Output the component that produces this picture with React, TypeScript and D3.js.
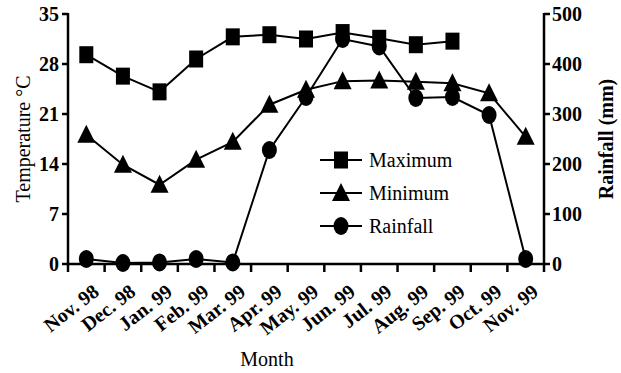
import React from 'react';
import * as d3 from 'd3';

const months = [
  'Nov. 98', 'Dec. 98', 'Jan. 99', 'Feb. 99', 'Mar. 99', 'Apr. 99', 'May. 99',
  'Jun. 99', 'Jul. 99', 'Aug. 99', 'Sep. 99', 'Oct. 99', 'Nov. 99',
];
// null = no reading
const maximum: (number | null)[] = [29.3, 26.3, 24.1, 28.7, 31.8, 32.1, 31.5, 32.4, 31.6, 30.7, 31.2, null, null];
const minimum = [18.1, 13.9, 11.1, 14.6, 17.1, 22.3, 24.4, 25.6, 25.7, 25.5, 25.3, 23.9, 17.8];
const rainfall = [10, 2, 3, 10, 3, 228, 334, 450, 435, 332, 334, 298, 10];
const tempTicks = [0, 7, 14, 21, 28, 35];
const rainTicks = [0, 100, 200, 300, 400, 500];

const W = 621;
const H = 373;
const m = { left: 68, right: 544, top: 14, bottom: 264 };
const font = '"Liberation Serif", "Times New Roman", serif';

const App: React.FC = () => {
  const x = d3.scaleBand<string>().domain(months).range([m.left, m.right]);
  const yT = d3.scaleLinear().domain([0, 35]).range([m.bottom, m.top]);
  const yR = d3.scaleLinear().domain([0, 500]).range([m.bottom, m.top]);
  const cx = (d: string) => (x(d) ?? 0) + x.bandwidth() / 2;

  const maxPts = months
    .map((mo, i) => ({ mo, v: maximum[i] }))
    .filter((d) => d.v != null) as { mo: string; v: number }[];
  const minPts = months.map((mo, i) => ({ mo, v: minimum[i] }));
  const rainPts = months.map((mo, i) => ({ mo, v: rainfall[i] }));

  const lineT = d3.line<{ mo: string; v: number }>().x((d) => cx(d.mo)).y((d) => yT(d.v));
  const lineR = d3.line<{ mo: string; v: number }>().x((d) => cx(d.mo)).y((d) => yR(d.v));

  const square = (px: number, py: number, k: string) => (
    <rect key={k} x={px - 7} y={py - 8.5} width={14} height={17} fill="#000" />
  );
  const tri = (px: number, py: number, k: string) => (
    <path key={k} d={`M${px},${py - 10}L${px + 9},${py + 8}L${px - 9},${py + 8}Z`} fill="#000" />
  );
  const dot = (px: number, py: number, k: string) => (
    <ellipse key={k} cx={px} cy={py} rx={7.5} ry={9} fill="#000" />
  );

  const legend = [
    { label: 'Maximum', mark: square },
    { label: 'Minimum', mark: tri },
    { label: 'Rainfall', mark: dot },
  ];

  return (
    <svg width={W} height={H} style={{ position: 'absolute', left: 0, top: 0, background: '#fff' }} fontFamily={font}>
      {/* series */}
      <path d={lineR(rainPts) ?? ''} fill="none" stroke="#000" strokeWidth={2} />
      <path d={lineT(minPts) ?? ''} fill="none" stroke="#000" strokeWidth={2} />
      <path d={lineT(maxPts) ?? ''} fill="none" stroke="#000" strokeWidth={2} />
      {rainPts.map((d, i) => dot(cx(d.mo), yR(d.v), 'r' + i))}
      {minPts.map((d, i) => tri(cx(d.mo), yT(d.v), 'n' + i))}
      {maxPts.map((d, i) => square(cx(d.mo), yT(d.v), 'x' + i))}

      {/* axes */}
      <g stroke="#000" strokeWidth={2.5}>
        <line x1={m.left} x2={m.left} y1={m.top - 1} y2={m.bottom + 1} />
        <line x1={m.right} x2={m.right} y1={m.top - 1} y2={m.bottom + 1} />
        <line x1={m.left} x2={m.right} y1={m.bottom} y2={m.bottom} />
        {tempTicks.map((t) => (
          <line key={'tt' + t} x1={m.left - 6} x2={m.left} y1={yT(t)} y2={yT(t)} />
        ))}
        {rainTicks.map((t) => (
          <line key={'rt' + t} x1={m.right} x2={m.right + 6} y1={yR(t)} y2={yR(t)} />
        ))}
        {months.map((mo) => (
          <line key={'xt' + mo} x1={(x(mo) ?? 0) + x.bandwidth()} x2={(x(mo) ?? 0) + x.bandwidth()} y1={m.bottom} y2={m.bottom + 8} />
        ))}
        <line x1={m.left} x2={m.left} y1={m.bottom} y2={m.bottom + 8} />
      </g>
      <g fontSize={20} fontWeight="bold" fill="#000">
        {tempTicks.map((t) => (
          <text key={'tl' + t} x={m.left - 9} y={yT(t)} dy="0.35em" textAnchor="end">{t}</text>
        ))}
        {rainTicks.map((t) => (
          <text key={'rl' + t} x={m.right + 8} y={yR(t)} dy="0.35em">{t}</text>
        ))}
        {months.map((mo) => (
          <text key={'xl' + mo} transform={`translate(${cx(mo) + 14},${m.bottom + 30}) rotate(-38)`} textAnchor="end">{mo}</text>
        ))}
      </g>

      {/* titles */}
      <g fontSize={20} fill="#000">
        <text transform={`translate(30,139) rotate(-90)`} textAnchor="middle">Temperature °C</text>
        <text transform={`translate(613,139) rotate(-90)`} textAnchor="middle" fontWeight="bold">Rainfall (mm)</text>
        <text x={267} y={366} textAnchor="middle">Month</text>
      </g>

      {/* legend */}
      <g fontSize={20} fill="#000">
        {legend.map((l, i) => {
          const ly = 160 + i * 33;
          return (
            <g key={l.label}>
              <line x1={320} x2={362} y1={ly} y2={ly} stroke="#000" strokeWidth={2} />
              {l.mark(341, ly, 'lg' + i)}
              <text x={369} y={ly} dy="0.35em">{l.label}</text>
            </g>
          );
        })}
      </g>
    </svg>
  );
};

export default App;
